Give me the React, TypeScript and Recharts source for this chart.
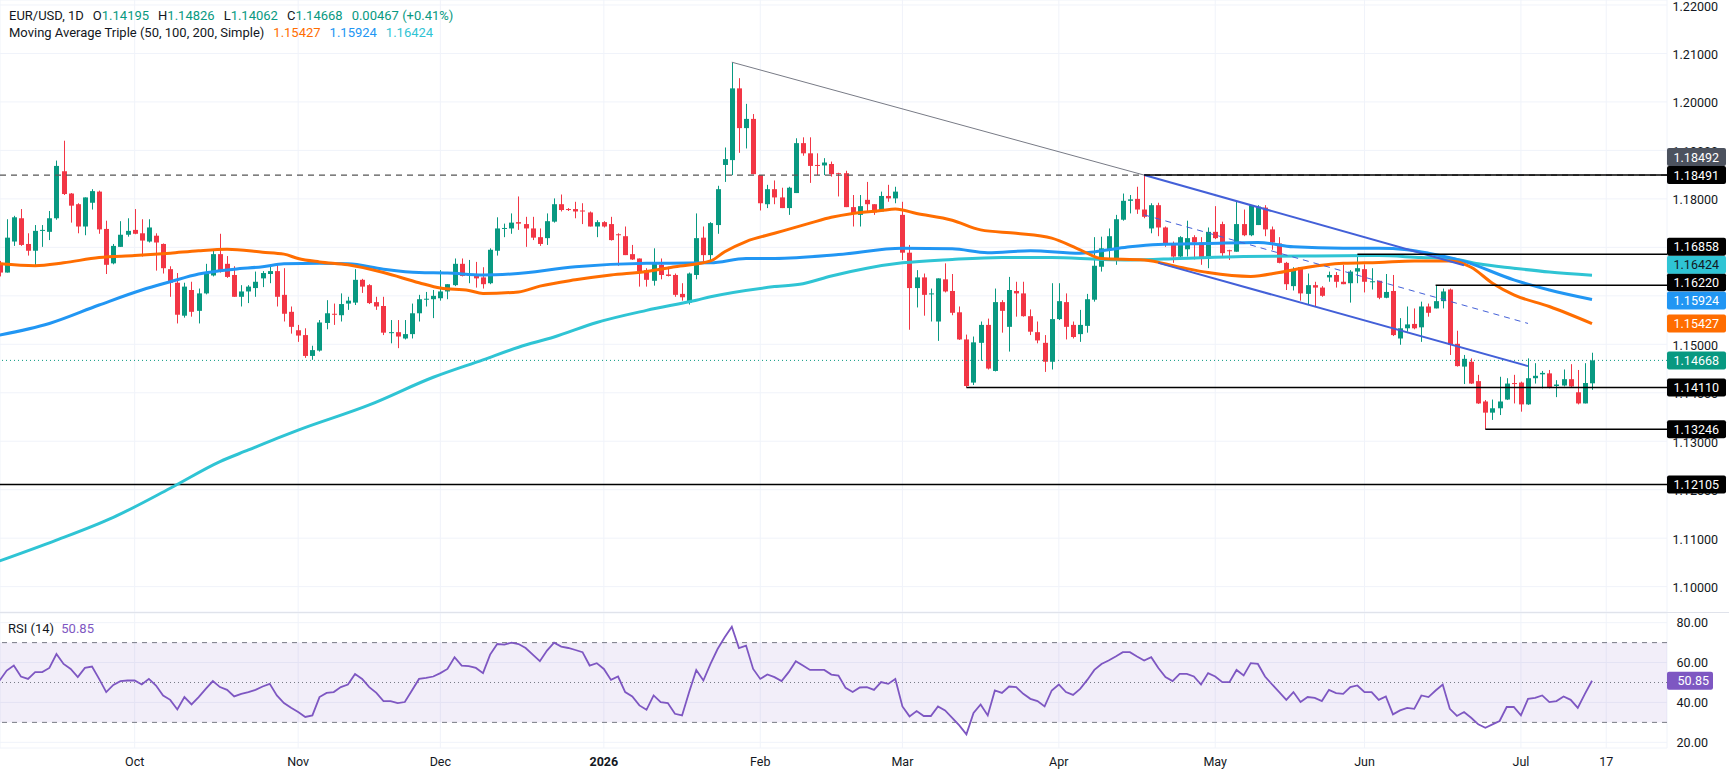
import React from "react";
import {
  ComposedChart,
  Bar,
  Line,
  XAxis,
  YAxis,
  CartesianGrid,
  ReferenceLine,
  ReferenceArea,
} from "recharts";

const FONT = "Roboto, 'Liberation Sans', Arial, sans-serif";
const UP = "#089981";
const DOWN = "#f23645";
const TEXT = "#131722";
const GRID = "#f0f3fa";
const ORANGE = "#ff6d00";
const BLUE = "#2196f3";
const CYAN = "#2fc4d4";
const CHANNEL = "#4360d8";
const PURPLE = "#7e57c2";

// daily candles [open, high, low, close]; first row (Sep 4 2025) has index -1
const SEP = [
  [1.1668, 1.1672, 1.164, 1.1648], [1.1648, 1.1758, 1.1648, 1.172], [1.1712, 1.1765, 1.1703, 1.1762],
  [1.176, 1.1779, 1.1703, 1.1705], [1.1707, 1.1729, 1.1683, 1.1693], [1.1693, 1.1746, 1.166, 1.1734],
  [1.1735, 1.1746, 1.1701, 1.1736], [1.1732, 1.1775, 1.1715, 1.176], [1.176, 1.1879, 1.1757, 1.1868],
  [1.1857, 1.192, 1.1808, 1.181], [1.1811, 1.1812, 1.1751, 1.1786], [1.1789, 1.1791, 1.1729, 1.1743],
  [1.1743, 1.1803, 1.1725, 1.1803], [1.1792, 1.182, 1.1778, 1.1816], [1.1815, 1.1817, 1.1728, 1.1737],
  [1.1738, 1.1755, 1.1645, 1.1664], [1.1667, 1.1707, 1.1665, 1.1703], [1.1701, 1.1754, 1.1701, 1.1726],
  [1.1726, 1.176, 1.1722, 1.1734],
];
const OCT = [
  [1.1736, 1.1779, 1.1727, 1.1728], [1.1729, 1.1758, 1.1681, 1.1714], [1.1712, 1.1758, 1.171, 1.1741],
  [1.1724, 1.1729, 1.1652, 1.171], [1.1707, 1.1708, 1.1646, 1.1657], [1.1655, 1.1661, 1.1598, 1.1627],
  [1.1627, 1.1647, 1.1543, 1.1561], [1.1559, 1.1627, 1.1555, 1.1619], [1.1612, 1.1629, 1.1557, 1.1567],
  [1.1569, 1.1615, 1.1543, 1.1605], [1.1605, 1.1666, 1.1603, 1.1646], [1.1642, 1.1695, 1.164, 1.1686],
  [1.1686, 1.1728, 1.1648, 1.1652], [1.1666, 1.1682, 1.1637, 1.1639], [1.1643, 1.1661, 1.1598, 1.1598],
  [1.1598, 1.1622, 1.1578, 1.1609], [1.1609, 1.1622, 1.1585, 1.1619], [1.1616, 1.165, 1.1598, 1.1629],
  [1.1636, 1.1651, 1.1618, 1.1647], [1.1645, 1.1665, 1.1626, 1.1651], [1.1651, 1.1664, 1.1578, 1.1598],
  [1.1602, 1.1657, 1.1547, 1.1563], [1.1567, 1.1578, 1.1522, 1.1536],
];
const NOV = [
  [1.1529, 1.154, 1.1505, 1.1518], [1.1519, 1.1533, 1.1472, 1.1476], [1.1476, 1.1497, 1.1468, 1.1488],
  [1.1487, 1.155, 1.1485, 1.1545], [1.1544, 1.1591, 1.1531, 1.1564], [1.1563, 1.1584, 1.154, 1.1562],
  [1.156, 1.1605, 1.1547, 1.1583], [1.1584, 1.1598, 1.1571, 1.159], [1.1586, 1.1655, 1.1581, 1.1633],
  [1.1633, 1.1635, 1.1606, 1.1619], [1.1622, 1.1624, 1.1583, 1.1585], [1.1587, 1.1598, 1.1571, 1.1578],
  [1.1579, 1.1598, 1.1519, 1.1524], [1.1524, 1.155, 1.1502, 1.1525], [1.1525, 1.155, 1.1492, 1.1516],
  [1.1512, 1.155, 1.151, 1.1521], [1.1521, 1.1584, 1.1512, 1.1564], [1.1564, 1.1602, 1.1547, 1.1593],
  [1.1593, 1.1608, 1.1578, 1.1594], [1.1593, 1.1612, 1.1554, 1.16],
];
const DEC = [
  [1.1595, 1.1653, 1.159, 1.1609], [1.1609, 1.1624, 1.1593, 1.1624], [1.1622, 1.1677, 1.162, 1.1666],
  [1.1666, 1.1677, 1.164, 1.1641], [1.1642, 1.1674, 1.1626, 1.1644], [1.1643, 1.167, 1.1617, 1.1636],
  [1.1638, 1.1659, 1.1615, 1.1624], [1.1626, 1.1698, 1.1624, 1.1695], [1.1693, 1.1762, 1.1683, 1.1739],
  [1.1739, 1.1749, 1.1721, 1.174], [1.1739, 1.177, 1.1728, 1.1751], [1.1752, 1.1805, 1.1736, 1.1749],
  [1.1748, 1.1763, 1.1701, 1.1739], [1.1739, 1.1763, 1.1715, 1.172], [1.1721, 1.1739, 1.1703, 1.1707],
  [1.1719, 1.177, 1.1705, 1.1754], [1.1753, 1.1801, 1.1751, 1.1789], [1.1789, 1.1809, 1.1774, 1.1777],
  [1.1779, 1.1781, 1.1775, 1.1778], [1.1779, 1.1794, 1.176, 1.1774], [1.1776, 1.1791, 1.1748, 1.1775],
  [1.1772, 1.1774, 1.1743, 1.1743], [1.1743, 1.1756, 1.1721, 1.1752],
];
const JAN = [
  [1.1752, 1.1754, 1.1741, 1.1743], [1.1748, 1.1763, 1.1714, 1.1715], [1.1727, 1.1729, 1.1662, 1.1726],
  [1.1723, 1.1743, 1.1684, 1.1684], [1.1686, 1.1705, 1.1674, 1.1675], [1.1677, 1.1677, 1.1619, 1.1651],
  [1.1653, 1.1657, 1.1619, 1.1633], [1.1631, 1.1698, 1.1621, 1.1666], [1.1664, 1.1677, 1.1634, 1.1643],
  [1.1644, 1.166, 1.164, 1.1641], [1.1643, 1.1646, 1.1598, 1.1602], [1.1604, 1.1626, 1.159, 1.1597],
  [1.1586, 1.1648, 1.1582, 1.1646], [1.1643, 1.177, 1.1634, 1.1719], [1.172, 1.1743, 1.1668, 1.1684],
  [1.1684, 1.1752, 1.1668, 1.175], [1.1746, 1.1827, 1.1728, 1.182], [1.187, 1.1906, 1.1835, 1.1882],
  [1.188, 1.2082, 1.1849, 1.2028], [1.2028, 1.2049, 1.1895, 1.1946], [1.1946, 1.1996, 1.1904, 1.1965],
  [1.1965, 1.1975, 1.1851, 1.1851],
];
const FEB = [
  [1.1849, 1.1849, 1.1776, 1.1791], [1.1789, 1.1829, 1.1781, 1.182], [1.182, 1.1838, 1.1789, 1.1803],
  [1.1803, 1.1823, 1.1781, 1.1781], [1.1781, 1.1825, 1.1767, 1.1823], [1.1812, 1.1925, 1.1812, 1.1915],
  [1.1915, 1.1927, 1.1889, 1.1894], [1.1894, 1.1927, 1.1833, 1.1868], [1.187, 1.1894, 1.1849, 1.1869],
  [1.1869, 1.1884, 1.1849, 1.1875], [1.1872, 1.1877, 1.1846, 1.1851], [1.1853, 1.1854, 1.1805, 1.1852],
  [1.1853, 1.1858, 1.1783, 1.1783], [1.1783, 1.1808, 1.1743, 1.1769], [1.1767, 1.1808, 1.1743, 1.1785],
  [1.1798, 1.1835, 1.1774, 1.1789], [1.1789, 1.1789, 1.1767, 1.1772], [1.1774, 1.1815, 1.1774, 1.1806],
  [1.1806, 1.1829, 1.1794, 1.1801], [1.1801, 1.1825, 1.1791, 1.1815],
];
const MAR = [
  [1.1767, 1.1794, 1.1674, 1.1689], [1.1689, 1.1705, 1.153, 1.1616], [1.1616, 1.1653, 1.1576, 1.1638],
  [1.1638, 1.1646, 1.1559, 1.1602], [1.1604, 1.1615, 1.1547, 1.1605], [1.1547, 1.1636, 1.1507, 1.1636],
  [1.1634, 1.1667, 1.1607, 1.1609], [1.161, 1.1645, 1.156, 1.1565], [1.1566, 1.1578, 1.1509, 1.151],
  [1.151, 1.152, 1.1411, 1.1414], [1.1421, 1.1516, 1.1416, 1.1504], [1.1503, 1.1547, 1.1466, 1.154],
  [1.154, 1.1553, 1.1448, 1.145], [1.1445, 1.1615, 1.1444, 1.1587], [1.1587, 1.1591, 1.1524, 1.1569],
  [1.1536, 1.1639, 1.1485, 1.1612], [1.161, 1.1629, 1.1557, 1.1605], [1.1605, 1.1629, 1.1557, 1.1558],
  [1.1558, 1.1572, 1.1519, 1.1526], [1.1525, 1.1547, 1.1502, 1.1508], [1.1503, 1.1519, 1.1443, 1.1464],
  [1.1464, 1.1626, 1.1448, 1.1552],
];
const APR = [
  [1.1552, 1.1626, 1.155, 1.1589], [1.1587, 1.1605, 1.151, 1.1536], [1.154, 1.1547, 1.1512, 1.1515],
  [1.1521, 1.1571, 1.1505, 1.154], [1.1538, 1.1604, 1.1524, 1.1593], [1.1592, 1.1721, 1.1588, 1.1662],
  [1.166, 1.1722, 1.165, 1.1698], [1.1696, 1.1739, 1.1674, 1.1723], [1.1675, 1.1767, 1.1664, 1.1758],
  [1.1757, 1.1811, 1.1755, 1.1796], [1.1796, 1.1808, 1.177, 1.1799], [1.18, 1.1825, 1.1769, 1.1778],
  [1.1778, 1.18491, 1.176, 1.1763], [1.1739, 1.1791, 1.1729, 1.1787], [1.1787, 1.1792, 1.1723, 1.1741],
  [1.1741, 1.1743, 1.1701, 1.1705], [1.1707, 1.1712, 1.1668, 1.1681], [1.1681, 1.1723, 1.1674, 1.1721],
  [1.1696, 1.1755, 1.1681, 1.1719], [1.1721, 1.1725, 1.1675, 1.171], [1.171, 1.1721, 1.1664, 1.1677],
  [1.1677, 1.1741, 1.1657, 1.1732],
];
const MAY = [
  [1.1732, 1.1785, 1.1717, 1.1719], [1.1748, 1.1753, 1.1681, 1.1688], [1.1694, 1.1695, 1.1674, 1.1693],
  [1.1691, 1.1794, 1.1691, 1.1748], [1.1748, 1.1778, 1.1723, 1.1725], [1.1725, 1.1787, 1.1723, 1.1787],
  [1.1746, 1.1787, 1.1746, 1.1784], [1.1782, 1.1787, 1.1723, 1.1737], [1.1737, 1.1743, 1.1695, 1.171],
  [1.1708, 1.1721, 1.1667, 1.1668], [1.1668, 1.167, 1.1612, 1.1624], [1.162, 1.1659, 1.1611, 1.1655],
  [1.1659, 1.1659, 1.159, 1.1605], [1.1604, 1.1646, 1.1583, 1.1622], [1.1622, 1.1629, 1.1578, 1.1617],
  [1.1617, 1.162, 1.1598, 1.16], [1.1638, 1.165, 1.1629, 1.1643], [1.1643, 1.1649, 1.1617, 1.1629],
  [1.1629, 1.1664, 1.1624, 1.1624], [1.1626, 1.1653, 1.1586, 1.165], [1.165, 1.16858, 1.1626, 1.1657],
];
const JUN = [
  [1.1655, 1.1665, 1.1607, 1.1629], [1.1628, 1.1657, 1.1613, 1.163], [1.1631, 1.1631, 1.1593, 1.1596],
  [1.1596, 1.1645, 1.1595, 1.1608], [1.161, 1.1643, 1.1517, 1.1519], [1.1512, 1.1554, 1.1499, 1.1533],
  [1.1533, 1.1578, 1.1526, 1.1541], [1.1542, 1.1574, 1.1531, 1.1533], [1.1535, 1.1588, 1.1505, 1.1578],
  [1.1578, 1.1584, 1.1557, 1.1565], [1.1574, 1.1622, 1.1574, 1.1589], [1.1589, 1.1615, 1.1574, 1.1609],
  [1.1613, 1.1615, 1.1478, 1.1499], [1.1501, 1.1528, 1.1454, 1.1455], [1.1454, 1.1478, 1.1418, 1.147],
  [1.1464, 1.1471, 1.1418, 1.1419], [1.1424, 1.1437, 1.1377, 1.1378], [1.1382, 1.1385, 1.13246, 1.1359],
  [1.1359, 1.1386, 1.1344, 1.1368], [1.1368, 1.1433, 1.1354, 1.1382], [1.1386, 1.143, 1.1385, 1.1419],
  [1.142, 1.1437, 1.1378, 1.1419],
];
const JUL = [
  [1.1421, 1.1423, 1.1361, 1.1376], [1.1376, 1.1471, 1.1375, 1.143], [1.143, 1.1461, 1.1419, 1.1435],
  [1.1438, 1.1445, 1.1409, 1.1441], [1.144, 1.1447, 1.1409, 1.1411], [1.1414, 1.1426, 1.1391, 1.1417],
  [1.1415, 1.1448, 1.1413, 1.1428], [1.1428, 1.1459, 1.1411, 1.1413], [1.1401, 1.1447, 1.1376, 1.1378],
  [1.1378, 1.1461, 1.1378, 1.14201], [1.14195, 1.14826, 1.14062, 1.14668],
];
const CANDLES = [...SEP, ...OCT, ...NOV, ...DEC, ...JAN, ...FEB, ...MAR, ...APR, ...MAY, ...JUN, ...JUL];
const FIRST_INDEX = -1;

// moving averages read at [bar index, value]
const MA50 = [
  [-1, 1.1666], [4, 1.1662], [8, 1.1668], [13, 1.1679], [18, 1.1683], [23, 1.1688], [27, 1.1693],
  [31, 1.1696], [36, 1.169], [39, 1.1686], [41, 1.1677], [44, 1.167], [48, 1.1664], [53, 1.1648],
  [58, 1.1627], [61, 1.1616], [65, 1.1611], [67, 1.1605], [72, 1.1608], [75, 1.162], [80, 1.1633],
  [85, 1.1643], [90, 1.165], [94, 1.166], [99, 1.1672], [101, 1.1691], [104, 1.1712], [108, 1.1729],
  [113, 1.175], [116, 1.1762], [119, 1.177], [123, 1.1776], [125, 1.1779], [128, 1.177], [133, 1.1756],
  [137, 1.1736], [142, 1.1729], [147, 1.1719], [151, 1.1695], [154, 1.1677], [160, 1.1674],
  [165, 1.1659], [169, 1.1648], [175, 1.164], [179, 1.1648], [183, 1.1659], [188, 1.1667],
  [193, 1.1669], [198, 1.1672], [203, 1.1672], [206, 1.1659], [209, 1.1626], [212, 1.1602],
  [217, 1.1578], [223, 1.15427],
];
const MA100 = [
  [-1, 1.1519], [6, 1.1543], [13, 1.1581], [19, 1.1612], [23, 1.1629], [27, 1.1645], [32, 1.1655],
  [36, 1.166], [39, 1.1666], [44, 1.1667], [48, 1.1666], [53, 1.1655], [58, 1.1648], [62, 1.1647],
  [67, 1.1643], [71, 1.1645], [80, 1.166], [90, 1.1667], [99, 1.1668], [104, 1.1677], [108, 1.1677],
  [117, 1.1685], [126, 1.1698], [133, 1.1697], [138, 1.1689], [144, 1.1693], [151, 1.1688],
  [155, 1.1695], [158, 1.1701], [162, 1.1706], [169, 1.1708], [176, 1.171], [181, 1.1701],
  [188, 1.1698], [193, 1.1698], [197, 1.1695], [200, 1.1688], [205, 1.1671], [212, 1.1633],
  [217, 1.1612], [223, 1.15924],
];
const MA200 = [
  [-1, 1.1053], [7, 1.1096], [15, 1.1143], [23, 1.1203], [30, 1.1258], [34, 1.1282], [38, 1.1306],
  [41, 1.1323], [51, 1.1375], [60, 1.1432], [67, 1.1468], [72, 1.1494], [77, 1.1515], [83, 1.1545],
  [90, 1.157], [97, 1.1591], [99, 1.1598], [108, 1.1619], [112, 1.1625], [116, 1.1641], [121, 1.1657],
  [126, 1.1668], [133, 1.1675], [140, 1.1679], [147, 1.1679], [154, 1.1675], [158, 1.1674],
  [165, 1.1677], [174, 1.1681], [183, 1.1682], [193, 1.1683], [199, 1.1679], [203, 1.1677],
  [207, 1.1666], [212, 1.1657], [217, 1.1649], [223, 1.16424],
];

// RSI(14), one value per candle
const RSI_SEP = [51, 56, 58.5, 53, 51.8, 55.2, 55.2, 57.3, 64.3, 59.3, 56.8, 52.7, 57.3, 58, 51.8, 45.2, 48.8, 50.7, 51];
const RSI_OCT = [51, 49, 51.8, 48.5, 43.5, 41.3, 36.5, 42.7, 39, 42.7, 46.8, 50.7, 47.7, 46.3, 43, 44.3, 45.2, 46.3, 48, 49.3, 43.5, 39.7, 37.3];
const RSI_NOV = [35.2, 32.7, 33.5, 42.7, 44.8, 45.2, 47.7, 49, 54.3, 51.8, 47.7, 44.8, 40.7, 40.7, 39.7, 40.2, 46, 51.8, 52.3, 53];
const RSI_DEC = [54.7, 56.8, 62.7, 58.5, 58.2, 57.3, 54.7, 64, 69.3, 69, 70, 69.3, 67.3, 64, 60.7, 66, 70, 68, 67.3, 66.3, 65.2, 58.5, 59.7];
const RSI_JAN = [56.8, 51.3, 53, 45.2, 43, 38.5, 36.3, 43.5, 40.2, 39.7, 34.3, 33.5, 45.2, 56.3, 51, 59.3, 66.8, 72.7, 78, 67.3, 68.5, 56.8];
const RSI_FEB = [51.8, 54, 52.7, 50.7, 55.2, 60.7, 58.5, 56.3, 56.3, 56.3, 54, 53.5, 47.3, 45.2, 47.5, 47.7, 46.3, 50.2, 49.3, 51.8];
const RSI_MAR = [38, 33, 35.7, 33.2, 33.2, 38, 36, 32.3, 28.5, 24, 34.7, 39, 33.5, 46, 44.8, 48, 47.7, 44.3, 41.8, 40.7, 38, 46];
const RSI_APR = [49, 45.2, 43.8, 46.8, 51.3, 56.3, 59.3, 61, 63, 65.2, 65.2, 63, 61, 62.7, 57.3, 52.7, 50.7, 54.3, 54.3, 53, 49, 54.7];
const RSI_MAY = [53, 50.2, 50.2, 56.3, 53.5, 59.7, 59.3, 53, 49, 45.2, 41.3, 45.2, 40.2, 42.7, 42.3, 40.7, 46.3, 44.7, 44.3, 47.7, 48.5];
const RSI_JUN = [45.2, 45.2, 41.3, 43, 34, 36, 37.3, 36.8, 43.5, 42.7, 46, 49, 36.8, 33.2, 35.2, 32.3, 29, 27.3, 29, 30.7, 37.7, 37.7];
const RSI_JUL = [33.5, 41.8, 42.3, 43.5, 40.2, 40.7, 43, 41.3, 37.3, 44.3, 50.85];
const RSI = [...RSI_SEP, ...RSI_OCT, ...RSI_NOV, ...RSI_DEC, ...RSI_JAN, ...RSI_FEB, ...RSI_MAR, ...RSI_APR, ...RSI_MAY, ...RSI_JUN, ...RSI_JUL];

const MONTH_TICKS = [18, 41, 61, 84, 106, 126, 148, 170, 191, 213, 225];
const MONTH_LABELS = ["Oct", "Nov", "Dec", "2026", "Feb", "Mar", "Apr", "May", "Jun", "Jul", "17"];
const PRICE_TICKS = [1.1, 1.11, 1.12, 1.13, 1.14, 1.15, 1.16, 1.17, 1.18, 1.19, 1.2, 1.21, 1.22];
const RSI_TICKS = [20, 40, 60, 80];

// horizontal levels: [price, first bar]
const LEVELS = [
  [1.18491, 160],
  [1.16858, 190],
  [1.1622, 201],
  [1.1411, 135],
  [1.13246, 208],
];
const FULL_LEVEL = 1.12105;
const PREV_HIGH = 1.18492;
// drawn trend lines: [bar, price, bar, price]
const TREND_LINE = [102, 1.2082, 160, 1.18491];
const CHANNEL_TOP = [160, 1.18491, 205, 1.1663];
const CHANNEL_BOTTOM = [162, 1.1668, 214, 1.1455];
const CHANNEL_MID = [160, 1.1767, 214, 1.1543];

const X_MIN = -0.943;
const X_MAX = 233.55;
const P_MIN = 1.09477;
const P_MAX = 1.22103;
const R_MIN = 17.15;
const R_MAX = 84.85;

const ma50Map = new Map(MA50.map(([k, v]) => [k, v]));
const ma100Map = new Map(MA100.map(([k, v]) => [k, v]));
const ma200Map = new Map(MA200.map(([k, v]) => [k, v]));

const rows = CANDLES.map(([o, h, l, c], i) => {
  const k = i + FIRST_INDEX;
  return {
    k,
    o,
    h,
    l,
    c,
    ma50: ma50Map.get(k),
    ma100: ma100Map.get(k),
    ma200: ma200Map.get(k),
    rsi: RSI[i],
  };
});

const last = CANDLES[CANDLES.length - 1];
const prevClose = CANDLES[CANDLES.length - 2][3];
const change = last[3] - prevClose;
const lastMa50 = MA50[MA50.length - 1][1];
const lastMa100 = MA100[MA100.length - 1][1];
const lastMa200 = MA200[MA200.length - 1][1];
const lastRsi = RSI[RSI.length - 1];

// price tags on the right scale: [price, background, text colour, vertical shift]
const TAGS: [number, string, string, number][] = [
  [FULL_LEVEL, "#000", "#fff", 0],
  [1.13246, "#000", "#fff", 0],
  [1.1411, "#000", "#fff", 0],
  [last[3], UP, "#fff", 0],
  [lastMa50, ORANGE, "#fff", 0],
  [lastMa100, BLUE, "#fff", 1],
  [1.1622, "#000", "#fff", -3],
  [lastMa200, CYAN, TEXT, -10.6],
  [1.16858, "#000", "#fff", -7.5],
  [1.18491, "#000", "#fff", 0],
  [PREV_HIGH, "#4c525e", "#fff", -18],
];

function Candle(props: any) {
  const { x, y, width, height, payload } = props;
  if (!payload || x == null) return null;
  const { o, h, l, c } = payload;
  const top = Math.min(y, y + height);
  const bottom = Math.max(y, y + height);
  const ppu = h - l > 0 ? (bottom - top) / (h - l) : 0;
  const py = (v: number) => top + (h - v) * ppu;
  const cx = Math.round(x + width / 2);
  const color = c >= o ? UP : DOWN;
  const bTop = py(Math.max(o, c));
  const bBot = py(Math.min(o, c));
  return (
    <g>
      <line x1={cx + 0.5} x2={cx + 0.5} y1={top} y2={bottom} stroke={color} strokeWidth={1} />
      <rect x={cx - 2} y={bTop} width={5} height={Math.max(1, bBot - bTop)} fill={color} />
    </g>
  );
}

function Tag(props: any) {
  const { viewBox, text, bg, fg, dy = 0, w = 59, tx = 52 } = props;
  if (!viewBox) return null;
  const left = viewBox.x + viewBox.width;
  const cy = viewBox.y + dy;
  return (
    <g>
      <rect x={left} y={cy - 9} width={w} height={18} fill={bg} rx={2} />
      <text
        x={left + tx}
        y={cy}
        textAnchor="end"
        dominantBaseline="central"
        fill={fg}
        fontSize={12.5}
        fontFamily={FONT}
      >
        {text}
      </text>
    </g>
  );
}

function PriceTick(props: any) {
  const { y, payload } = props;
  return (
    <text x={1718} y={y + 1} textAnchor="end" dominantBaseline="central" fontSize={12.5} fill={TEXT} fontFamily={FONT}>
      {Number(payload.value).toFixed(5)}
    </text>
  );
}

function RsiTick(props: any) {
  const { y, payload } = props;
  return (
    <text x={1708} y={y} textAnchor="end" dominantBaseline="central" fontSize={12.5} fill={TEXT} fontFamily={FONT}>
      {Number(payload.value).toFixed(2)}
    </text>
  );
}

function MonthTick(props: any) {
  const { x, payload } = props;
  const label = MONTH_LABELS[MONTH_TICKS.indexOf(payload.value)];
  return (
    <text
      x={x}
      y={148}
      textAnchor="middle"
      dominantBaseline="central"
      fontSize={12.5}
      fontWeight={label === "2026" ? 700 : 400}
      fill={TEXT}
      fontFamily={FONT}
    >
      {label}
    </text>
  );
}

const seg = (s: number[]) => [
  { x: s[0], y: s[1] },
  { x: s[2], y: s[3] },
];

export default function App() {
  return (
    <div
      style={{
        position: "absolute",
        left: 0,
        top: 0,
        width: 1729,
        height: 775,
        background: "#fff",
        fontFamily: FONT,
        overflow: "hidden",
      }}
    >
      <div style={{ position: "absolute", left: 0, top: 0 }}>
        <ComposedChart width={1729} height={612} data={rows} margin={{ top: 0, right: 0, bottom: 0, left: 0 }}>
          <CartesianGrid stroke={GRID} />
          <XAxis dataKey="k" type="number" domain={[X_MIN, X_MAX]} ticks={MONTH_TICKS} allowDataOverflow hide />
          <YAxis
            orientation="right"
            type="number"
            domain={[P_MIN, P_MAX]}
            ticks={PRICE_TICKS}
            interval={0}
            allowDataOverflow
            width={62}
            axisLine={false}
            tickLine={false}
            tick={<PriceTick />}
          />
          <ReferenceLine y={FULL_LEVEL} stroke="#000" strokeWidth={1.5} />
          <ReferenceLine y={PREV_HIGH} stroke="#555" strokeWidth={1.2} strokeDasharray="6 5" />
          <ReferenceLine y={last[3]} stroke={UP} strokeDasharray="1 3" />
          <Line dataKey="ma200" stroke={CYAN} strokeWidth={3} dot={false} connectNulls type="monotone" isAnimationActive={false} />
          <Line dataKey="ma100" stroke={BLUE} strokeWidth={3} dot={false} connectNulls type="monotone" isAnimationActive={false} />
          <Line dataKey="ma50" stroke={ORANGE} strokeWidth={3} dot={false} connectNulls type="monotone" isAnimationActive={false} />
          <Bar dataKey={(d: any) => [d.l, d.h]} barSize={5} shape={(p: any) => <Candle {...p} />} isAnimationActive={false} />
          <ReferenceLine segment={seg(TREND_LINE)} stroke="#787b86" strokeWidth={1} />
          <ReferenceLine segment={seg(CHANNEL_TOP)} stroke={CHANNEL} strokeWidth={2} />
          <ReferenceLine segment={seg(CHANNEL_BOTTOM)} stroke={CHANNEL} strokeWidth={2} />
          <ReferenceLine segment={seg(CHANNEL_MID)} stroke={CHANNEL} strokeWidth={1} strokeDasharray="6 5" />
          {LEVELS.map(([p, from]) => (
            <ReferenceLine
              key={p}
              segment={[
                { x: from, y: p },
                { x: X_MAX, y: p },
              ]}
              stroke="#000"
              strokeWidth={1.5}
            />
          ))}
        </ComposedChart>
      </div>

      {/* tag layer drawn above the price scale */}
      <div style={{ position: "absolute", left: 0, top: 0 }}>
        <ComposedChart width={1729} height={612} data={rows} margin={{ top: 0, right: 0, bottom: 0, left: 0 }}>
          <XAxis dataKey="k" type="number" domain={[X_MIN, X_MAX]} allowDataOverflow hide />
          <YAxis
            orientation="right"
            type="number"
            domain={[P_MIN, P_MAX]}
            allowDataOverflow
            width={62}
            axisLine={false}
            tickLine={false}
            tick={false}
          />
          {TAGS.map(([p, bg, fg, dy]) => (
            <ReferenceLine
              key={p}
              y={p}
              stroke="none"
              label={<Tag text={p.toFixed(5)} bg={bg} fg={fg} dy={dy} />}
            />
          ))}
        </ComposedChart>
      </div>

      <div style={{ position: "absolute", left: 0, top: 612, width: 1729, height: 1, background: "#e0e3eb" }} />

      <div style={{ position: "absolute", left: 0, top: 613 }}>
        <ComposedChart width={1729} height={162} data={rows} margin={{ top: 0, right: 0, bottom: 0, left: 0 }}>
          <CartesianGrid stroke={GRID} />
          <XAxis
            dataKey="k"
            type="number"
            domain={[X_MIN, X_MAX]}
            ticks={MONTH_TICKS}
            interval={0}
            allowDataOverflow
            height={27}
            axisLine={false}
            tickLine={false}
            tick={<MonthTick />}
          />
          <YAxis
            orientation="right"
            type="number"
            domain={[R_MIN, R_MAX]}
            ticks={RSI_TICKS}
            interval={0}
            allowDataOverflow
            width={62}
            axisLine={false}
            tickLine={false}
            tick={<RsiTick />}
          />
          <ReferenceArea y1={30} y2={70} fill={PURPLE} fillOpacity={0.1} stroke="none" />
          <ReferenceLine y={70} stroke="#787b86" strokeDasharray="5 5" />
          <ReferenceLine y={50} stroke="#787b86" strokeDasharray="1 3" />
          <ReferenceLine y={30} stroke="#787b86" strokeDasharray="5 5" />
          <Line dataKey="rsi" stroke={PURPLE} strokeWidth={1.8} dot={false} isAnimationActive={false} />
          <ReferenceLine y={lastRsi} stroke="none" label={<Tag text={lastRsi.toFixed(2)} bg={PURPLE} fg="#fff" w={46} tx={42} />} />
        </ComposedChart>
      </div>

      <div style={{ position: "absolute", left: 9, top: 7, fontSize: 13, lineHeight: "17px", color: TEXT, whiteSpace: "nowrap" }}>
        <div>
          <span style={{ marginRight: 9 }}>EUR/USD, 1D</span>
          {[["O", last[0]], ["H", last[1]], ["L", last[2]], ["C", last[3]]].map(([k, v]) => (
            <span key={k as string} style={{ marginRight: 9 }}>
              {k}
              <span style={{ color: UP }}>{(v as number).toFixed(5)}</span>
            </span>
          ))}
          <span style={{ color: UP }}>
            {change.toFixed(5)} (+{((change / prevClose) * 100).toFixed(2)}%)
          </span>
        </div>
        <div>
          <span style={{ marginRight: 9 }}>Moving Average Triple (50, 100, 200, Simple)</span>
          <span style={{ color: ORANGE, marginRight: 9 }}>{lastMa50.toFixed(5)}</span>
          <span style={{ color: BLUE, marginRight: 9 }}>{lastMa100.toFixed(5)}</span>
          <span style={{ color: CYAN }}>{lastMa200.toFixed(5)}</span>
        </div>
      </div>

      <div style={{ position: "absolute", left: 8, top: 620, fontSize: 13, lineHeight: "17px", color: TEXT }}>
        RSI (14) <span style={{ color: PURPLE, marginLeft: 4 }}>{lastRsi.toFixed(2)}</span>
      </div>
    </div>
  );
}
